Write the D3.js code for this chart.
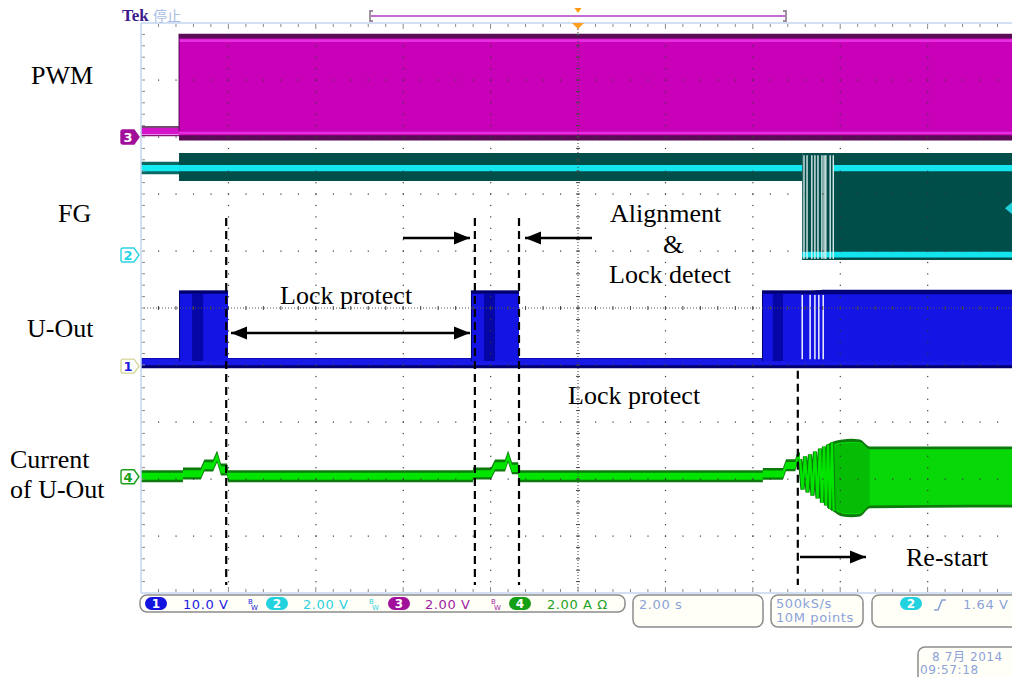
<!DOCTYPE html>
<html><head><meta charset="utf-8">
<script src="https://cdn.jsdelivr.net/npm/d3@7"></script>
<style>body{margin:0;background:#fff}svg{display:block}</style>
</head><body>
<svg id="c" width="1012" height="677"></svg>
<script>
// ================= DATA =================
const xDomain = [-10, 10];            // seconds, 2.00 s/div, trigger at centre
const chScale = [10, 2, 2, 2];        // units per division for ch1..ch4
const chOffsetDiv = [-1.02, 0.93, 3.0, -2.96];
const chReadout = ["10.0 V", "2.00 V", "2.00 V", "2.00 A \u03A9"];
const traceLabels = ["PWM", "FG", "U-Out", "Current", "of U-Out"];

// ch3 PWM (V)
const pwmIdleT = [-10, -9.13]; const pwmIdleV = [0.22, 0.22];
const pwmT = [-9.13, 10]; const pwmLo = [0, 0]; const pwmHi = [3.62, 3.62];

// ch2 FG (V)
const fgIdleT = [-10, -9.13]; const fgIdleV = [3.05, 3.05];
const fgBandT = [-9.13, 5.13]; const fgBandV = [3.05, 3.05]; const fgBandLo = [2.6, 2.6]; const fgBandHi = [3.58, 3.58];
const fgTogT = [5.13, 10]; const fgTogLo = [-0.18, -0.18]; const fgTogHi = [3.58, 3.58]; const fgTogLowV = [0, 0];
const fgHighT = [5.84, 10]; const fgHighV = [3.05, 3.05];
const fgGapT = [5.17, 5.24, 5.35, 5.42, 5.49, 5.58, 5.63, 5.67, 5.77, 5.84];
const fgTrigLevel = 1.64;

// ch1 U-Out (V)
const uBaseT = [-10, 10]; const uBaseV = [0.9, 0.9];
const uPulseStart = [-9.13, -2.45, 4.21];
const uPulseEnd = [-8.01, -1.35, 10];
const uPulseHigh = [12.8, 12.8, 12.8];
const uDarkStart = [-8.83, -2.15, 4.46];
const uDarkEnd = [-8.58, -1.90, 4.69];
const uGapT = [5.13, 5.31, 5.42, 5.51, 5.61];
const uNoiseT = [5.1, 5.6, 10]; const uNoiseHi = [13.0, 13.4, 13.4];

// ch4 Current of U-Out (A)
const curT = [-10, -9.04, -9.04, -8.63, -8.55, -8.35, -8.26, -8.17, -8.03, -8.01,
              -2.40, -2.40, -1.99, -1.90, -1.67, -1.60, -1.51, -1.37, -1.35,
              4.23, 4.23, 4.69, 4.76, 4.97, 5.03, 5.08];
const curA = [0.02, 0.02, 0.11, 0.11, 0.39, 0.39, 0.71, 0.25, 0.25, 0.02,
              0.02, 0.11, 0.11, 0.39, 0.39, 0.71, 0.30, 0.30, 0.02,
              0.02, 0.10, 0.10, 0.40, 0.40, 0.71, 0.62];
const zigT = [5.08, 5.137, 5.195, 5.252, 5.309, 5.366, 5.423, 5.481, 5.538, 5.584, 5.629, 5.675, 5.721, 5.767, 5.812, 5.85];
const zigA = [0.62, -0.45, 0.71, -0.55, 0.78, -0.66, 0.88, -0.76, 0.99, -0.91, 1.06, -1.01, 1.13, -1.12, 1.20, -1.2];
const envT = [5.70, 5.84, 6.06, 6.25, 6.45, 6.68, 8.0, 10];
const envHi = [1.13, 1.24, 1.31, 1.33, 1.31, 1.06, 1.06, 1.06];
const envLo = [-1.08, -1.22, -1.40, -1.42, -1.40, -1.11, -1.09, -1.08];

// annotation markers (dashed lines), in seconds and divisions
const annT = [-8.05, -2.36, -1.35, 5.03];
const annTopDiv = [1.58, 1.58, 1.58, -1.1];
const annBottomDiv = -4.86;

// ================= SCALES =================
const svg = d3.select("#c");
const X = d3.scaleLinear().domain(xDomain).range([141, 1015]);
const GX = d3.scaleLinear().domain([0, 10]).range([141, 1015]);
const GY = d3.scaleLinear().domain([-5, 5]).range([593, 23]);
const yc = ch => v => GY(chOffsetDiv[ch - 1] + v / chScale[ch - 1]);
const y1 = yc(1), y2 = yc(2), y3 = yc(3), y4 = yc(4);

svg.append("defs").append("clipPath").attr("id", "plot")
  .append("rect").attr("x", 141).attr("y", 23).attr("width", 874).attr("height", 570);
const gT = svg.append("g").attr("clip-path", "url(#plot)");

function band(g, T, lo, hi, yf, fill, op) {
  const d = T.map((t, i) => [t, lo[i], hi[i]]);
  g.append("path").datum(d)
    .attr("d", d3.area().x(p => X(p[0])).y0(p => yf(p[1])).y1(p => yf(p[2])))
    .attr("fill", fill).attr("opacity", op == null ? 1 : op);
}
function curveBand(g, T, lo, hi, yf, fill, op) {
  const d = T.map((t, i) => [t, lo[i], hi[i]]);
  g.append("path").datum(d)
    .attr("d", d3.area().curve(d3.curveMonotoneX).x(p => X(p[0])).y0(p => yf(p[1])).y1(p => yf(p[2])))
    .attr("fill", fill).attr("opacity", op == null ? 1 : op);
}
function line(g, T, V, yf, stroke, w) {
  g.append("path").datum(T.map((t, i) => [t, V[i]]))
    .attr("d", d3.line().x(p => X(p[0])).y(p => yf(p[1])))
    .attr("fill", "none").attr("stroke", stroke).attr("stroke-width", w);
}
const add = (arr, k) => arr.map(v => v + k);

// ================= PWM (ch3) =================
band(gT, pwmIdleT, add(pwmIdleV, -0.13), add(pwmIdleV, 0.1), y3, "#d414c8");
line(gT, pwmIdleT, add(pwmIdleV, 0.13), y3, "#4a0c44", 1.6);
line(gT, pwmIdleT, add(pwmIdleV, -0.17), y3, "#8a1080", 1.2);
band(gT, pwmT, add(pwmLo, -0.12), pwmHi, y3, "#5a0c56");
band(gT, pwmT, add(pwmLo, 0.06), add(pwmHi, -0.16), y3, "#c800b8");
line(gT, pwmT, add(pwmHi, -0.24), y3, "#e62ee0", 2.6);
line(gT, pwmT, add(pwmLo, 0.14), y3, "#e62ee0", 2.6);
gT.append("line").attr("x1", X(pwmT[0])).attr("x2", X(pwmT[0]))
  .attr("y1", y3(pwmHi[0])).attr("y2", y3(pwmIdleV[0])).attr("stroke", "#5a0c56").attr("stroke-width", 1);

// ================= FG (ch2) =================
band(gT, fgIdleT, add(fgIdleV, -0.22), add(fgIdleV, 0.22), y2, "#0a6864");
band(gT, fgIdleT, add(fgIdleV, -0.11), add(fgIdleV, 0.11), y2, "#14ecf4");
band(gT, fgBandT, fgBandLo, fgBandHi, y2, "#004e4a");
band(gT, fgBandT, add(fgBandV, -0.11), add(fgBandV, 0.11), y2, "#14e4ee");
band(gT, fgTogT, fgTogLo, fgTogHi, y2, "#004e4a");
band(gT, fgTogT, add(fgTogLowV, -0.09), add(fgTogLowV, 0.11), y2, "#14e4ee");
band(gT, fgHighT, add(fgHighV, -0.11), add(fgHighV, 0.11), y2, "#14e4ee");
fgGapT.forEach(t => {
  gT.append("rect").attr("x", X(t) - 0.6).attr("width", 1.3)
    .attr("y", y2(3.5)).attr("height", y2(-0.14) - y2(3.5)).attr("fill", "#e8f4f4");
});

// ================= U-Out (ch1) =================
band(gT, uBaseT, add(uBaseV, -1.25), add(uBaseV, 0.55), y1, "#00006e");
band(gT, uBaseT, add(uBaseV, -0.75), add(uBaseV, 0.45), y1, "#1a1ae8");
uPulseStart.forEach((s, i) => {
  const e = uPulseEnd[i], h = uPulseHigh[i];
  gT.append("rect").attr("x", X(s)).attr("width", X(e) - X(s))
    .attr("y", y1(h + 0.5)).attr("height", y1(uBaseV[0]) - y1(h + 0.5)).attr("fill", "#00006e");
  gT.append("rect").attr("x", X(s) + 1).attr("width", X(e) - X(s) - 1)
    .attr("y", y1(h - 0.1)).attr("height", y1(uBaseV[0]) - y1(h - 0.1)).attr("fill", "#1414e4");
  gT.append("rect").attr("x", X(uDarkStart[i])).attr("width", X(uDarkEnd[i]) - X(uDarkStart[i]))
    .attr("y", y1(h - 0.1)).attr("height", y1(uBaseV[0]) - y1(h - 0.1)).attr("fill", "#0606a6");
});
band(gT, uNoiseT, add([12.8, 12.8, 12.8], -0.2), uNoiseHi, y1, "#00007a");
uGapT.forEach(t => {
  gT.append("rect").attr("x", X(t) - 0.7).attr("width", 1.5)
    .attr("y", y1(12.5)).attr("height", y1(1.2) - y1(12.5)).attr("fill", "#eef0ff");
});

// ================= Current (ch4) =================
band(gT, curT, add(curA, -0.21), add(curA, 0.21), y4, "#0c7a0c");
band(gT, curT, add(curA, -0.13), add(curA, 0.12), y4, "#00e400");
curveBand(gT, envT, envLo, envHi, y4, "#0c7a0c");
curveBand(gT, envT, add(envLo, 0.1), add(envHi, -0.1), y4, "#08d808");
curveBand(gT, envT.slice(0, 6), add(envLo.slice(0, 6), 0.14), add(envHi.slice(0, 6), -0.14), y4, "#04a804", 0.55);
line(gT, zigT, zigA, y4, "#0c7a0c", 4.2);
line(gT, zigT, zigA, y4, "#00e400", 2.2);

// ================= GRID =================
const gG = svg.append("g");
const minor = d3.range(1, 50).map(k => k * 0.2);
d3.range(1, 10).forEach(i => {
  if (i === 5) return;
  minor.forEach(m => gG.append("rect").attr("x", GX(i) - 0.5).attr("y", GY(m - 5) - 0.5).attr("width", 1.2).attr("height", 1.2).attr("fill", "#3a3a3a"));
  minor.forEach(m => gG.append("rect").attr("x", GX(m) - 0.5).attr("y", GY(i - 5) - 0.5).attr("width", 1.2).attr("height", 1.2).attr("fill", "#3a3a3a"));
});
gG.append("line").attr("x1", GX(5)).attr("x2", GX(5)).attr("y1", GY(5)).attr("y2", GY(-5))
  .attr("stroke", "#444").attr("stroke-width", 1).attr("stroke-dasharray", "1,2");
gG.append("line").attr("x1", GX(0)).attr("x2", GX(10)).attr("y1", GY(0)).attr("y2", GY(0))
  .attr("stroke", "#555").attr("stroke-width", 1).attr("stroke-dasharray", "1,2");
minor.forEach(m => {
  gG.append("line").attr("x1", GX(m)).attr("x2", GX(m)).attr("y1", GY(0) - 2).attr("y2", GY(0) + 2).attr("stroke", "#444");
  gG.append("line").attr("x1", GX(5) - 2).attr("x2", GX(5) + 2).attr("y1", GY(m - 5)).attr("y2", GY(m - 5)).attr("stroke", "#444");
});
gG.append("line").attr("x1", 141).attr("x2", 1012).attr("y1", 23).attr("y2", 23).attr("stroke", "#c4d4ee").attr("stroke-width", 1.5);
gG.append("line").attr("x1", 141).attr("x2", 1012).attr("y1", 593).attr("y2", 593).attr("stroke", "#c4d4ee").attr("stroke-width", 1.5);
gG.append("line").attr("x1", 141).attr("x2", 141).attr("y1", 23).attr("y2", 593).attr("stroke", "#c4d4ee").attr("stroke-width", 1.5);
d3.range(1, 50).forEach(k => {
  const major = k % 5 === 0, len = major ? 5 : 3;
  gG.append("line").attr("x1", GX(k * 0.2)).attr("x2", GX(k * 0.2)).attr("y1", 24).attr("y2", 24 + len).attr("stroke", "#8a8a8a");
  gG.append("line").attr("x1", GX(k * 0.2)).attr("x2", GX(k * 0.2)).attr("y1", 592 - len).attr("y2", 592).attr("stroke", "#8a8a8a");
  gG.append("line").attr("x1", 142).attr("x2", 145).attr("y1", GY(k * 0.2 - 5)).attr("y2", GY(k * 0.2 - 5)).attr("stroke", "#8a8a8a");
});

// ================= CHANNEL FLAGS =================
function flag(cy, fill, stroke, txt, tcol) {
  const p = `M123,${cy - 7}H134L139,${cy}L134,${cy + 7}H123Q121,${cy + 7} 121,${cy + 5}V${cy - 5}Q121,${cy - 7} 123,${cy - 7}Z`;
  svg.append("path").attr("d", p).attr("fill", fill).attr("stroke", stroke).attr("stroke-width", 1.4);
  svg.append("text").attr("x", 128).attr("y", cy + 5).attr("text-anchor", "middle")
    .attr("font-family", "DejaVu Sans").attr("font-weight", "bold").attr("font-size", 13).attr("fill", tcol).text(txt);
}
flag(GY(chOffsetDiv[2]), "#a0109a", "#a0109a", "3", "#fff");
flag(GY(chOffsetDiv[1]), "#fff", "#28d4e4", "2", "#28d4e4");
flag(GY(chOffsetDiv[0]), "#fff", "#d4d49a", "1", "#1a1ae0");
flag(GY(chOffsetDiv[3]), "#fff", "#18a018", "4", "#18a018");

const ty = y2(fgTrigLevel);
svg.append("path").attr("d", `M1012,${ty - 6}L1005,${ty}L1012,${ty + 6}Z`).attr("fill", "#20d0dc");

// ================= HEADER =================
svg.append("text").attr("x", 122).attr("y", 21).attr("font-family", "Liberation Serif").attr("font-weight", "bold")
  .attr("font-size", 17).attr("fill", "#3c1a8c").text("Tek");
svg.append("text").attr("x", 153).attr("y", 21).attr("font-family", "Noto Sans CJK SC")
  .attr("font-size", 14).attr("fill", "#a8bce4").text("停止");
svg.append("line").attr("x1", 370).attr("x2", 786).attr("y1", 16).attr("y2", 16).attr("stroke", "#b03cc0").attr("stroke-width", 1.5);
svg.append("path").attr("d", "M373,11H370V21H373").attr("fill", "none").attr("stroke", "#9a8a9a").attr("stroke-width", 1.8);
svg.append("path").attr("d", "M783,11H786V21H783").attr("fill", "none").attr("stroke", "#9a8a9a").attr("stroke-width", 1.8);
svg.append("path").attr("d", `M${X(0) - 3.5},8L${X(0) + 3.5},8L${X(0)},13Z`).attr("fill", "#ff9a10");
svg.append("path").attr("d", `M${X(0) - 6},23L${X(0) + 6},23L${X(0)},29Z`).attr("fill", "#ffa020");

// ================= ANNOTATIONS =================
const gA = svg.append("g");
annT.forEach((t, i) => {
  gA.append("line").attr("x1", X(t)).attr("x2", X(t)).attr("y1", GY(annTopDiv[i])).attr("y2", GY(annBottomDiv))
    .attr("stroke", "#000").attr("stroke-width", 2.2).attr("stroke-dasharray", "8,5");
});
function arrowHead(x, y, dir) {
  gA.append("path").attr("d", `M${x},${y}L${x - dir * 16},${y - 6.5}L${x - dir * 16},${y + 6.5}Z`).attr("fill", "#000");
}
function arrow(xa, xb, y, both) {
  gA.append("line").attr("x1", xa).attr("x2", xb).attr("y1", y).attr("y2", y).attr("stroke", "#000").attr("stroke-width", 2.3);
  const dir = xb > xa ? 1 : -1;
  arrowHead(xb, y, dir);
  if (both) arrowHead(xa, y, -dir);
}
arrow(231, 470, 333, true);
arrow(403, 470, 238, false);
arrow(592, 525, 238, false);
arrow(800, 866, 557, false);

const serif = (x, y, s) => gA.append("text").attr("x", x).attr("y", y).attr("font-family", "Liberation Serif")
  .attr("font-size", 26).attr("fill", "#000").text(s);
serif(31, 84, traceLabels[0]);
serif(58, 222, traceLabels[1]);
serif(27, 337, traceLabels[2]);
serif(10, 468, traceLabels[3]);
serif(10, 498, traceLabels[4]);
serif(280, 304, "Lock protect");
serif(610, 222, "Alignment");
serif(663, 253, "&");
serif(609, 283, "Lock detect");
serif(568, 404, "Lock protect");
serif(906, 566, "Re-start");

// ================= READOUTS =================
const gR = svg.append("g");
const rbox = (x, y, w, h) => gR.append("rect").attr("x", x).attr("y", y).attr("width", w).attr("height", h)
  .attr("rx", 7).attr("fill", "#fffff8").attr("stroke", "#8c8c8c").attr("stroke-width", 1.5);
rbox(140, 595, 485, 17);
rbox(633, 595, 130, 32);
rbox(771, 595, 92, 32);
rbox(872, 595, 150, 32);
rbox(918, 647, 110, 40);

const badgeCol = ["#1414e0", "#22d2de", "#a0109a", "#14a014"];
const textCol = ["#1a1ae0", "#2ccfdd", "#a01ca0", "#1ea01e"];
const badgeX = [145, 266, 388, 509];
const valX = [183, 303, 425, 547];
const bwX = [248, 369, 491];
function badge(x, y, col, n) {
  gR.append("rect").attr("x", x).attr("y", y).attr("width", 22).attr("height", 13).attr("rx", 6.5).attr("fill", col);
  gR.append("text").attr("x", x + 11).attr("y", y + 11).attr("text-anchor", "middle").attr("font-family", "DejaVu Sans")
    .attr("font-weight", "bold").attr("font-size", 12).attr("fill", "#fff").text(n);
}
chReadout.forEach((s, i) => {
  badge(badgeX[i], 597, badgeCol[i], String(i + 1));
  gR.append("text").attr("x", valX[i]).attr("y", 609).attr("font-family", "DejaVu Sans").attr("font-size", 13)
    .attr("letter-spacing", 0.6).attr("fill", textCol[i]).text(s);
  if (i < 3) {
    gR.append("text").attr("x", bwX[i]).attr("y", 604).attr("font-family", "DejaVu Sans").attr("font-size", 7).attr("fill", textCol[i]).text("B");
    gR.append("text").attr("x", bwX[i] + 3).attr("y", 610).attr("font-family", "DejaVu Sans").attr("font-size", 7).attr("fill", textCol[i]).text("W");
  }
});
const lt = (x, y, s, fs) => gR.append("text").attr("x", x).attr("y", y).attr("font-family", "DejaVu Sans, Noto Sans CJK SC").attr("font-size", fs || 13)
  .attr("letter-spacing", 0.6).attr("fill", "#8ca2d8").text(s);
lt(639, 609, "2.00 s");
lt(776, 608, "500kS/s");
lt(776, 622, "10M points");
badge(900, 597, "#22d2de", "2");
gR.append("path").attr("d", "M934,610H938L942,600H946").attr("fill", "none").attr("stroke", "#8ca2d8").attr("stroke-width", 1.6);
lt(963, 609, "1.64 V");
lt(932, 661, "8 7月  2014", 12);
lt(920, 674, "09:57:18", 12);
</script>
</body></html>
